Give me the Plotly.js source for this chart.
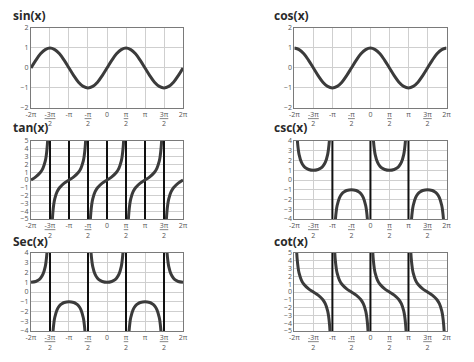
<!DOCTYPE html>
<html>
<head>
<meta charset="utf-8">
<script src="https://cdn.plot.ly/plotly-3.0.1.min.js"></script>
<style>html,body{margin:0;padding:0;background:#fff;}#chart{width:474px;height:362px;}</style>
</head>
<body>
<div id="chart"></div>
<script>
// x values are in units of pi
const xTickVals = [-2,-1.5,-1,-0.5,0,0.5,1,1.5,2];
const xTickText = ["-2π","<u>-3π</u><br>2","-π","<u>-π</u><br>2","0","<u>π</u><br>2","π","<u>3π</u><br>2","2π"];
const titles = ["sin(x)","cos(x)","tan(x)","csc(x)","Sec(x)","cot(x)"];

const xWave = [-2,-1.875,-1.75,-1.625,-1.5,-1.375,-1.25,-1.125,-1,-0.875,-0.75,-0.625,-0.5,-0.375,-0.25,-0.125,0,0.125,0.25,0.375,0.5,0.625,0.75,0.875,1,1.125,1.25,1.375,1.5,1.625,1.75,1.875,2];
const sinY = [0,0.38,0.71,0.92,1,0.92,0.71,0.38,0,-0.38,-0.71,-0.92,-1,-0.92,-0.71,-0.38,0,0.38,0.71,0.92,1,0.92,0.71,0.38,0,-0.38,-0.71,-0.92,-1,-0.92,-0.71,-0.38,0];
const cosY = [1,0.92,0.71,0.38,0,-0.38,-0.71,-0.92,-1,-0.92,-0.71,-0.38,0,0.38,0.71,0.92,1,0.92,0.71,0.38,0,-0.38,-0.71,-0.92,-1,-0.92,-0.71,-0.38,0,0.38,0.71,0.92,1];

const tanX = [-2,-1.875,-1.75,-1.6875,-1.625,-1.6,-1.575,-1.56,null,
  -1.44,-1.425,-1.4,-1.375,-1.3125,-1.25,-1.125,-1,-0.875,-0.75,-0.6875,-0.625,-0.6,-0.575,-0.56,null,
  -0.44,-0.425,-0.4,-0.375,-0.3125,-0.25,-0.125,0,0.125,0.25,0.3125,0.375,0.4,0.425,0.44,null,
  0.56,0.575,0.6,0.625,0.6875,0.75,0.875,1,1.125,1.25,1.3125,1.375,1.4,1.425,1.44,null,
  1.56,1.575,1.6,1.625,1.6875,1.75,1.875,2];
const tanY = [0,0.41,1,1.5,2.41,3.08,4.17,5.24,null,
  -5.24,-4.17,-3.08,-2.41,-1.5,-1,-0.41,0,0.41,1,1.5,2.41,3.08,4.17,5.24,null,
  -5.24,-4.17,-3.08,-2.41,-1.5,-1,-0.41,0,0.41,1,1.5,2.41,3.08,4.17,5.24,null,
  -5.24,-4.17,-3.08,-2.41,-1.5,-1,-0.41,0,0.41,1,1.5,2.41,3.08,4.17,5.24,null,
  -5.24,-4.17,-3.08,-2.41,-1.5,-1,-0.41,0];

const cotX = [-1.94,-1.925,-1.9,-1.875,-1.8125,-1.75,-1.625,-1.5,-1.375,-1.25,-1.1875,-1.125,-1.1,-1.075,-1.06,null,
  -0.94,-0.925,-0.9,-0.875,-0.8125,-0.75,-0.625,-0.5,-0.375,-0.25,-0.1875,-0.125,-0.1,-0.075,-0.06,null,
  0.06,0.075,0.1,0.125,0.1875,0.25,0.375,0.5,0.625,0.75,0.8125,0.875,0.9,0.925,0.94,null,
  1.06,1.075,1.1,1.125,1.1875,1.25,1.375,1.5,1.625,1.75,1.8125,1.875,1.9,1.925,1.94];
const cotY = [5.24,4.17,3.08,2.41,1.5,1,0.41,0,-0.41,-1,-1.5,-2.41,-3.08,-4.17,-5.24,null,
  5.24,4.17,3.08,2.41,1.5,1,0.41,0,-0.41,-1,-1.5,-2.41,-3.08,-4.17,-5.24,null,
  5.24,4.17,3.08,2.41,1.5,1,0.41,0,-0.41,-1,-1.5,-2.41,-3.08,-4.17,-5.24,null,
  5.24,4.17,3.08,2.41,1.5,1,0.41,0,-0.41,-1,-1.5,-2.41,-3.08,-4.17,-5.24];

const cscX = [-1.94,-1.92,-1.9,-1.875,-1.8125,-1.75,-1.6875,-1.625,-1.5,-1.375,-1.3125,-1.25,-1.1875,-1.125,-1.1,-1.08,-1.06,null,
  -0.94,-0.92,-0.9,-0.875,-0.8125,-0.75,-0.6875,-0.625,-0.5,-0.375,-0.3125,-0.25,-0.1875,-0.125,-0.1,-0.08,-0.06,null,
  0.06,0.08,0.1,0.125,0.1875,0.25,0.3125,0.375,0.5,0.625,0.6875,0.75,0.8125,0.875,0.9,0.92,0.94,null,
  1.06,1.08,1.1,1.125,1.1875,1.25,1.3125,1.375,1.5,1.625,1.6875,1.75,1.8125,1.875,1.9,1.92,1.94];
const cscY = [5.34,4.02,3.24,2.61,1.8,1.41,1.2,1.08,1,1.08,1.2,1.41,1.8,2.61,3.24,4.02,5.34,null,
  -5.34,-4.02,-3.24,-2.61,-1.8,-1.41,-1.2,-1.08,-1,-1.08,-1.2,-1.41,-1.8,-2.61,-3.24,-4.02,-5.34,null,
  5.34,4.02,3.24,2.61,1.8,1.41,1.2,1.08,1,1.08,1.2,1.41,1.8,2.61,3.24,4.02,5.34,null,
  -5.34,-4.02,-3.24,-2.61,-1.8,-1.41,-1.2,-1.08,-1,-1.08,-1.2,-1.41,-1.8,-2.61,-3.24,-4.02,-5.34];

const secX = [-2,-1.875,-1.8125,-1.75,-1.6875,-1.625,-1.6,-1.58,-1.56,null,
  -1.44,-1.42,-1.4,-1.375,-1.3125,-1.25,-1.1875,-1.125,-1,-0.875,-0.8125,-0.75,-0.6875,-0.625,-0.6,-0.58,-0.56,null,
  -0.44,-0.42,-0.4,-0.375,-0.3125,-0.25,-0.1875,-0.125,0,0.125,0.1875,0.25,0.3125,0.375,0.4,0.42,0.44,null,
  0.56,0.58,0.6,0.625,0.6875,0.75,0.8125,0.875,1,1.125,1.1875,1.25,1.3125,1.375,1.4,1.42,1.44,null,
  1.56,1.58,1.6,1.625,1.6875,1.75,1.8125,1.875,2];
const secY = [1,1.08,1.2,1.41,1.8,2.61,3.24,4.02,5.34,null,
  -5.34,-4.02,-3.24,-2.61,-1.8,-1.41,-1.2,-1.08,-1,-1.08,-1.2,-1.41,-1.8,-2.61,-3.24,-4.02,-5.34,null,
  5.34,4.02,3.24,2.61,1.8,1.41,1.2,1.08,1,1.08,1.2,1.41,1.8,2.61,3.24,4.02,5.34,null,
  -5.34,-4.02,-3.24,-2.61,-1.8,-1.41,-1.2,-1.08,-1,-1.08,-1.2,-1.41,-1.8,-2.61,-3.24,-4.02,-5.34,null,
  5.34,4.02,3.24,2.61,1.8,1.41,1.2,1.08,1];

const tanAsym = [-1.5,-1,-0.5,0,0.5,1,1.5];
const cscAsym = [-1,0,1];
const secAsym = [-1.5,-0.5,0.5,1.5];
const cotAsym = [-1,0,1];

const yRanges = [[-2,2],[-2,2],[-5,5],[-4,4],[-4,4],[-5,5]];

const curveColor = "#3b3b3b";
const panels = [
  {x:xWave, y:sinY, asym:[]},
  {x:xWave, y:cosY, asym:[]},
  {x:tanX, y:tanY, asym:tanAsym},
  {x:cscX, y:cscY, asym:cscAsym},
  {x:secX, y:secY, asym:secAsym},
  {x:cotX, y:cotY, asym:cotAsym}
];

const colDom = [[0.0654,0.3861],[0.621,0.942]];
const rowDom = [[0.7017,0.9227],[0.3950,0.6105],[0.0856,0.3011]];
const titlePos = [[0.024,0.956],[0.574,0.956],[0.024,0.649],[0.574,0.649],[0.024,0.334],[0.574,0.334]];

const data = [];
const layout = {
  width:474, height:362,
  margin:{l:0,r:0,t:0,b:0},
  paper_bgcolor:"#fff", plot_bgcolor:"#fff",
  showlegend:false, hovermode:false,
  font:{family:"Open Sans, DejaVu Sans, sans-serif", color:"#555"},
  annotations:[]
};

panels.forEach((p,i)=>{
  const n = i+1;
  const xa = n===1 ? "x" : "x"+n;
  const ya = n===1 ? "y" : "y"+n;
  const yr = yRanges[i];
  if (p.asym.length){
    const ax=[], ay=[];
    p.asym.forEach(a=>{ax.push(a,a,null); ay.push(yr[0],yr[1],null);});
    data.push({x:ax,y:ay,xaxis:xa,yaxis:ya,mode:"lines",line:{color:"#111",width:2},hoverinfo:"skip"});
  }
  data.push({x:p.x,y:p.y,xaxis:xa,yaxis:ya,mode:"lines",connectgaps:false,
    line:{color:curveColor,width:3,shape:"spline",smoothing:1},hoverinfo:"skip"});
  const col = i%2, row = Math.floor(i/2);
  const axCommon = {showline:true, mirror:true, linecolor:"#7a7a7a", linewidth:1,
    showgrid:true, gridcolor:"#cfcfcf", gridwidth:1, zeroline:false, ticks:"",
    tickfont:{size:7, color:"#555"}, fixedrange:true};
  layout[n===1?"xaxis":"xaxis"+n] = Object.assign({}, axCommon, {
    domain:colDom[col], anchor:ya, range:[-2,2],
    tickmode:"array", tickvals:xTickVals, ticktext:xTickText, tickangle:0
  });
  layout[n===1?"yaxis":"yaxis"+n] = Object.assign({}, axCommon, {
    domain:rowDom[row], anchor:xa, range:yr, dtick:1, tick0:0
  });
  layout.annotations.push({text:titles[i], xref:"paper", yref:"paper",
    x:titlePos[i][0], y:titlePos[i][1], xanchor:"left", yanchor:"middle", showarrow:false,
    font:{size:12, color:"#2a2a2a", family:"Open Sans, DejaVu Sans, sans-serif", weight:700}});
});

Plotly.newPlot("chart", data, layout, {staticPlot:true, displayModeBar:false});
</script>
</body>
</html>
